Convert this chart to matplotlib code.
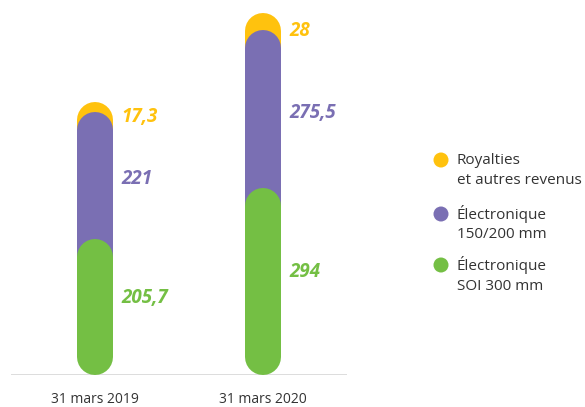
import matplotlib
matplotlib.use("Agg")
import matplotlib.pyplot as plt

plt.rcParams["font.family"] = ["Open Sans", "DejaVu Sans"]

# data
dates = ["31 mars 2019", "31 mars 2020"]
soi_300 = [205.7, 294]
elec_150_200 = [221, 275.5]
royalties = [17.3, 28]
value_labels = {
    "soi": ["205,7", "294"],
    "elec": ["221", "275,5"],
    "roy": ["17,3", "28"],
}
legend_lines = [
    ["Royalties", "et autres revenus"],
    ["Électronique", "150/200 mm"],
    ["Électronique", "SOI 300 mm"],
]

YELLOW = "#FFC20E"
PURPLE = "#7A6FB3"
GREEN = "#74BF44"
TEXT = "#333333"

W, H, DPI = 585, 407, 100
PX = 72 / DPI            # points per pixel
SCALE = 0.575            # pixels per unit
BAR_PX = 36
R_PX = BAR_PX / 2

fig = plt.figure(figsize=(W / DPI, H / DPI), dpi=DPI)
ax = fig.add_axes([11 / W, 32 / H, 336 / W, 375 / H])
ax.set_xlim(-0.5, 1.5)
ax.set_ylim(0, 375 / SCALE)
r_data = R_PX / SCALE

for i in range(len(dates)):
    g = soi_300[i]
    p = g + elec_150_200[i]
    y = p + royalties[i]
    kw = dict(lw=BAR_PX * PX, solid_capstyle="round", clip_on=False)
    ax.plot([i, i], [p, y], color=YELLOW, zorder=2, **kw)
    ax.plot([i, i], [g, p], color=PURPLE, zorder=3, **kw)
    ax.plot([i, i], [r_data, g], color=GREEN, zorder=4, **kw)

    lab = dict(textcoords="offset points", ha="left", va="center",
               fontsize=13.5, fontweight="bold", style="italic")
    dx = 26 * PX
    ax.annotate(value_labels["soi"][i], (i, g / 2), xytext=(dx, R_PX * PX),
                color=GREEN, **lab)
    ax.annotate(value_labels["elec"][i], (i, (g + p) / 2), xytext=(dx, 14 * PX),
                color=PURPLE, **lab)
    ax.annotate(value_labels["roy"][i], (i, (p + y) / 2), xytext=(dx, 8 * PX),
                color=YELLOW, **lab)

ax.axhline(0, color="#555555", lw=1, zorder=1)
for s in ax.spines.values():
    s.set_visible(False)
ax.set_yticks([])
ax.set_xticks(range(len(dates)))
ax.set_xticklabels(dates, fontsize=10, color=TEXT)
ax.tick_params(axis="x", length=0, pad=12)

# legend in pixel coordinates
lg = fig.add_axes([0, 0, 1, 1], facecolor="none")
lg.set_xlim(0, W)
lg.set_ylim(H, 0)
lg.axis("off")
for yc, col, lines in zip([160, 214, 265], [YELLOW, PURPLE, GREEN], legend_lines):
    lg.scatter([441], [yc], s=(15 * PX) ** 2, color=col, edgecolors="none")
    lg.text(457, yc, lines[0], fontsize=11, color=TEXT, va="center", ha="left")
    lg.text(457, yc + 21, lines[1], fontsize=11, color=TEXT, va="center", ha="left")

fig.savefig("out.png", dpi=DPI, facecolor="white")
